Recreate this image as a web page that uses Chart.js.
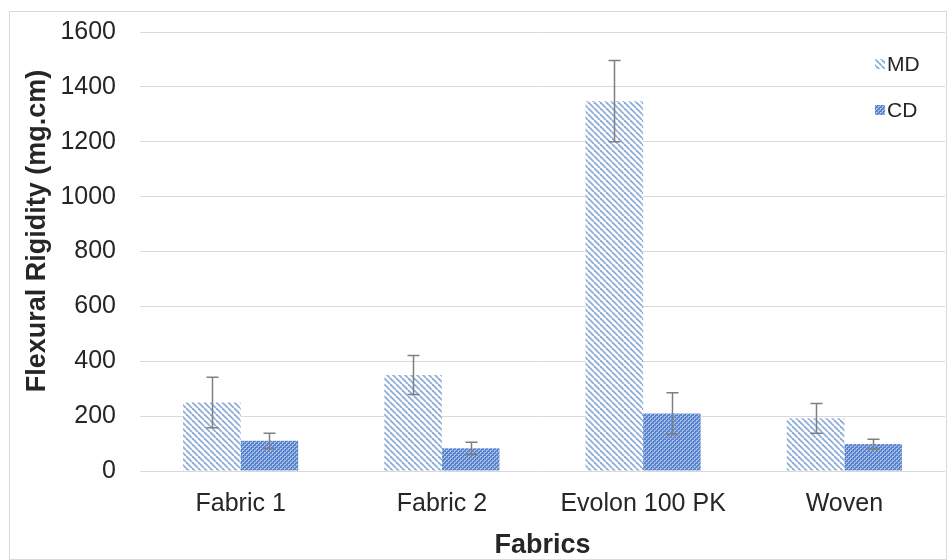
<!DOCTYPE html>
<html>
<head>
<meta charset="utf-8">
<script src="https://cdn.jsdelivr.net/npm/chart.js@4.4.1/dist/chart.umd.min.js"></script>
<style>
html,body{margin:0;padding:0;background:#fff;}
#wrap{width:948px;height:560px;}
</style>
</head>
<body>
<div id="wrap"><canvas id="c" width="948" height="560"></canvas></div>
<script>
const categories = ["Fabric 1", "Fabric 2", "Evolon 100 PK", "Woven"];
const mdValues = [250, 350, 1348, 192];
const mdErrors = [92, 71, 148, 54];
const cdValues = [110, 83, 210, 98];
const cdErrors = [28, 22, 75, 18];
const yTicks = [0, 200, 400, 600, 800, 1000, 1200, 1400, 1600];
const xTitle = 'Fabrics';
const yTitle = 'Flexural Rigidity (mg.cm)';

const FONT = '"Liberation Sans", Arial, sans-serif';

function stripePattern() {
  const c = document.createElement('canvas');
  c.width = 6; c.height = 6;
  const g = c.getContext('2d');
  g.fillStyle = '#ffffff';
  g.fillRect(0, 0, 6, 6);
  g.strokeStyle = '#8eacd8';
  g.lineWidth = 1.8;
  for (let k = -6; k <= 12; k += 6) {
    g.beginPath();
    g.moveTo(k, 0);
    g.lineTo(k + 6, 6);
    g.stroke();
  }
  return g.createPattern(c, 'repeat');
}
function dotPattern() {
  const c = document.createElement('canvas');
  c.width = 4; c.height = 4;
  const g = c.getContext('2d');
  g.fillStyle = '#5f89cf';
  g.fillRect(0, 0, 4, 4);
  g.fillStyle = '#a9c1ea';
  g.fillRect(0, 0, 2, 2);
  g.fillRect(2, 2, 2, 2);
  g.fillStyle = '#4a76c0';
  g.fillRect(1, 1, 1, 1);
  g.fillRect(3, 3, 1, 1);
  return g.createPattern(c, 'repeat');
}
const mdFill = stripePattern();
const cdFill = dotPattern();
const errors = [mdErrors, cdErrors];

const borderPlugin = {
  id: 'outerBorder',
  beforeDraw(chart) {
    const ctx = chart.ctx;
    ctx.save();
    ctx.fillStyle = '#fff';
    ctx.fillRect(0, 0, chart.width, chart.height);
    ctx.strokeStyle = '#d9d9d9';
    ctx.lineWidth = 1;
    ctx.strokeRect(9.5, 11.5, 937, 548);
    ctx.restore();
  }
};

const errorBarPlugin = {
  id: 'errorBars',
  afterDatasetsDraw(chart) {
    const ctx = chart.ctx;
    const y = chart.scales.y;
    ctx.save();
    ctx.strokeStyle = '#7f7f7f';
    ctx.lineWidth = 1.5;
    chart.data.datasets.forEach((ds, di) => {
      const meta = chart.getDatasetMeta(di);
      meta.data.forEach((bar, i) => {
        const v = ds.data[i], e = errors[di][i];
        const x = Math.round(bar.x) + 0.5;
        const yt = y.getPixelForValue(v + e);
        const yb = y.getPixelForValue(v - e);
        ctx.beginPath();
        ctx.moveTo(x, yt); ctx.lineTo(x, yb);
        ctx.moveTo(x - 6, yt); ctx.lineTo(x + 6, yt);
        ctx.moveTo(x - 6, yb); ctx.lineTo(x + 6, yb);
        ctx.stroke();
      });
    });
    ctx.restore();
  }
};

const titlesLegendPlugin = {
  id: 'titlesLegend',
  afterDraw(chart) {
    const ctx = chart.ctx;
    ctx.save();
    ctx.fillStyle = '#262626';
    ctx.font = 'bold 27px ' + FONT;
    ctx.textAlign = 'center';
    ctx.textBaseline = 'middle';
    ctx.fillText(xTitle, (chart.chartArea.left + chart.chartArea.right) / 2, 546);
    ctx.save();
    ctx.translate(38, 231);
    ctx.rotate(-Math.PI / 2);
    ctx.fillText(yTitle, 0, 0);
    ctx.restore();
    ctx.font = '21px ' + FONT;
    ctx.textAlign = 'left';
    const pos = [64, 110];
    chart.data.datasets.forEach((ds, i) => {
      ctx.fillStyle = ds.backgroundColor;
      ctx.fillRect(875, pos[i] - 5, 10, 10);
      ctx.fillStyle = '#262626';
      ctx.fillText(ds.label, 887, pos[i] + 1);
    });
    ctx.restore();
  }
};

new Chart(document.getElementById('c'), {
  type: 'bar',
  data: {
    labels: categories,
    datasets: [
      { label: 'MD', data: mdValues, backgroundColor: mdFill, borderWidth: 0 },
      { label: 'CD', data: cdValues, backgroundColor: cdFill, borderWidth: 0 }
    ]
  },
  options: {
    responsive: false,
    animation: false,
    layout: { padding: { left: 10, right: 3, top: 32, bottom: 0 } },
    datasets: { bar: { categoryPercentage: 0.572, barPercentage: 1.0 } },
    plugins: { legend: { display: false }, tooltip: { enabled: false } },
    scales: {
      x: {
        grid: { display: false },
        border: { display: false },
        ticks: { color: '#262626', font: { family: FONT, size: 25 }, padding: 10, maxRotation: 0 },
        afterFit(s) { s.height = 89; s.paddingLeft = 0; s.paddingRight = 0; }
      },
      y: {
        min: 0, max: 1600,
        afterBuildTicks(s) { s.ticks = yTicks.map(v => ({ value: v })); },
        grid: { color: '#d9d9d9', lineWidth: 1, drawTicks: false },
        border: { display: false },
        ticks: { color: '#262626', font: { family: FONT, size: 25 }, padding: 24, callback: (v) => String(v) },
        afterFit(s) { s.width = 130; s.paddingTop = 0; s.paddingBottom = 0; }
      }
    }
  },
  plugins: [borderPlugin, errorBarPlugin, titlesLegendPlugin]
});
</script>
</body>
</html>
